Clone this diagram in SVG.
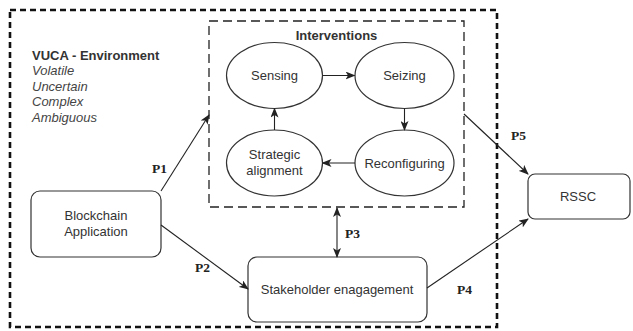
<svg xmlns="http://www.w3.org/2000/svg" width="633" height="331" viewBox="0 0 633 331">
  <defs>
    <marker id="arrow" viewBox="0 0 10 8" refX="9" refY="4" markerWidth="10" markerHeight="8" markerUnits="userSpaceOnUse" orient="auto-start-reverse">
      <path d="M0,0 L10,4 L0,8 L2.5,4 Z" fill="#222"/>
    </marker>
  </defs>
  <style>
    .bg { fill: #ffffff; }
    .frame-outer { fill: none; stroke: #111; stroke-width: 2.6; stroke-dasharray: 6 4; }
    .frame-inner { fill: none; stroke: #222; stroke-width: 1.3; stroke-dasharray: 9 5; }
    .node { fill: #ffffff; stroke: #333; stroke-width: 1.2; }
    .edge { fill: none; stroke: #222; stroke-width: 1.1; }
    .lbl { font-family: "Liberation Sans", Arial, sans-serif; font-size: 13px; fill: #333; text-anchor: middle; }
    .title { font-family: "Liberation Sans", Arial, sans-serif; font-size: 13px; font-weight: bold; fill: #333; }
    .ital { font-family: "Liberation Sans", Arial, sans-serif; font-size: 13px; font-style: italic; fill: #444; }
    .plab { font-family: "Liberation Serif", "Times New Roman", serif; font-size: 13.5px; font-weight: bold; fill: #222; }
  </style>

  <rect class="bg" x="0" y="0" width="633" height="331"/>

  <!-- environment boundary -->
  <g id="vuca-environment">
    <rect class="frame-outer" x="10" y="10" width="487" height="317"/>
    <text class="title" x="32" y="60">VUCA - Environment</text>
    <text class="ital" x="32" y="75">Volatile</text>
    <text class="ital" x="32" y="90.5">Uncertain</text>
    <text class="ital" x="32" y="106">Complex</text>
    <text class="ital" x="32" y="121.5">Ambiguous</text>
  </g>

  <!-- interventions container -->
  <g id="interventions">
    <rect class="frame-inner" x="209" y="21" width="255" height="186"/>
    <text class="title" x="336.5" y="40" text-anchor="middle">Interventions</text>
  </g>

  <g id="sensing">
    <ellipse class="node" cx="274.5" cy="75.5" rx="48" ry="33"/>
    <text class="lbl" x="274.5" y="80">Sensing</text>
  </g>
  <g id="seizing">
    <ellipse class="node" cx="404.5" cy="75.5" rx="49.5" ry="33"/>
    <text class="lbl" x="404.5" y="80">Seizing</text>
  </g>
  <g id="reconfiguring">
    <ellipse class="node" cx="404.5" cy="163" rx="49.5" ry="33"/>
    <text class="lbl" x="404.5" y="167.5">Reconfiguring</text>
  </g>
  <g id="strategic-alignment">
    <ellipse class="node" cx="274.5" cy="163" rx="48" ry="33"/>
    <text class="lbl" x="274.5" y="159">Strategic</text>
    <text class="lbl" x="274.5" y="174.5">alignment</text>
  </g>

  <g id="blockchain-application">
    <rect class="node" x="31" y="191" width="130" height="66" rx="9"/>
    <text class="lbl" x="96" y="220">Blockchain</text>
    <text class="lbl" x="96" y="236">Application</text>
  </g>

  <g id="stakeholder-engagement">
    <rect class="node" x="248" y="257" width="179" height="65" rx="9"/>
    <text class="lbl" x="337" y="294">Stakeholder enagagement</text>
  </g>

  <g id="rssc">
    <rect class="node" x="528" y="174" width="102" height="45" rx="7"/>
    <text class="lbl" x="578" y="201">RSSC</text>
  </g>

  <!-- connectors -->
  <g id="connectors">
    <line class="edge" x1="322.5" y1="75.5" x2="354.5" y2="75.5" marker-end="url(#arrow)"/>
    <line class="edge" x1="404.5" y1="108.5" x2="404.5" y2="130" marker-end="url(#arrow)"/>
    <line class="edge" x1="355" y1="163" x2="322.5" y2="163" marker-end="url(#arrow)"/>
    <line class="edge" x1="274.5" y1="130" x2="274.5" y2="108.5" marker-end="url(#arrow)"/>

    <line class="edge" x1="161" y1="191" x2="209" y2="115" marker-end="url(#arrow)"/>
    <line class="edge" x1="161" y1="225" x2="248" y2="289" marker-end="url(#arrow)"/>
    <line class="edge" x1="337" y1="208" x2="337" y2="257" marker-start="url(#arrow)" marker-end="url(#arrow)"/>
    <line class="edge" x1="427" y1="288" x2="528" y2="219" marker-end="url(#arrow)"/>
    <line class="edge" x1="464" y1="114" x2="528" y2="174" marker-end="url(#arrow)"/>
  </g>

  <g id="connector-labels">
    <text class="plab" x="152" y="173">P1</text>
    <text class="plab" x="195" y="272">P2</text>
    <text class="plab" x="345" y="238">P3</text>
    <text class="plab" x="457" y="294">P4</text>
    <text class="plab" x="511" y="140">P5</text>
  </g>
</svg>
